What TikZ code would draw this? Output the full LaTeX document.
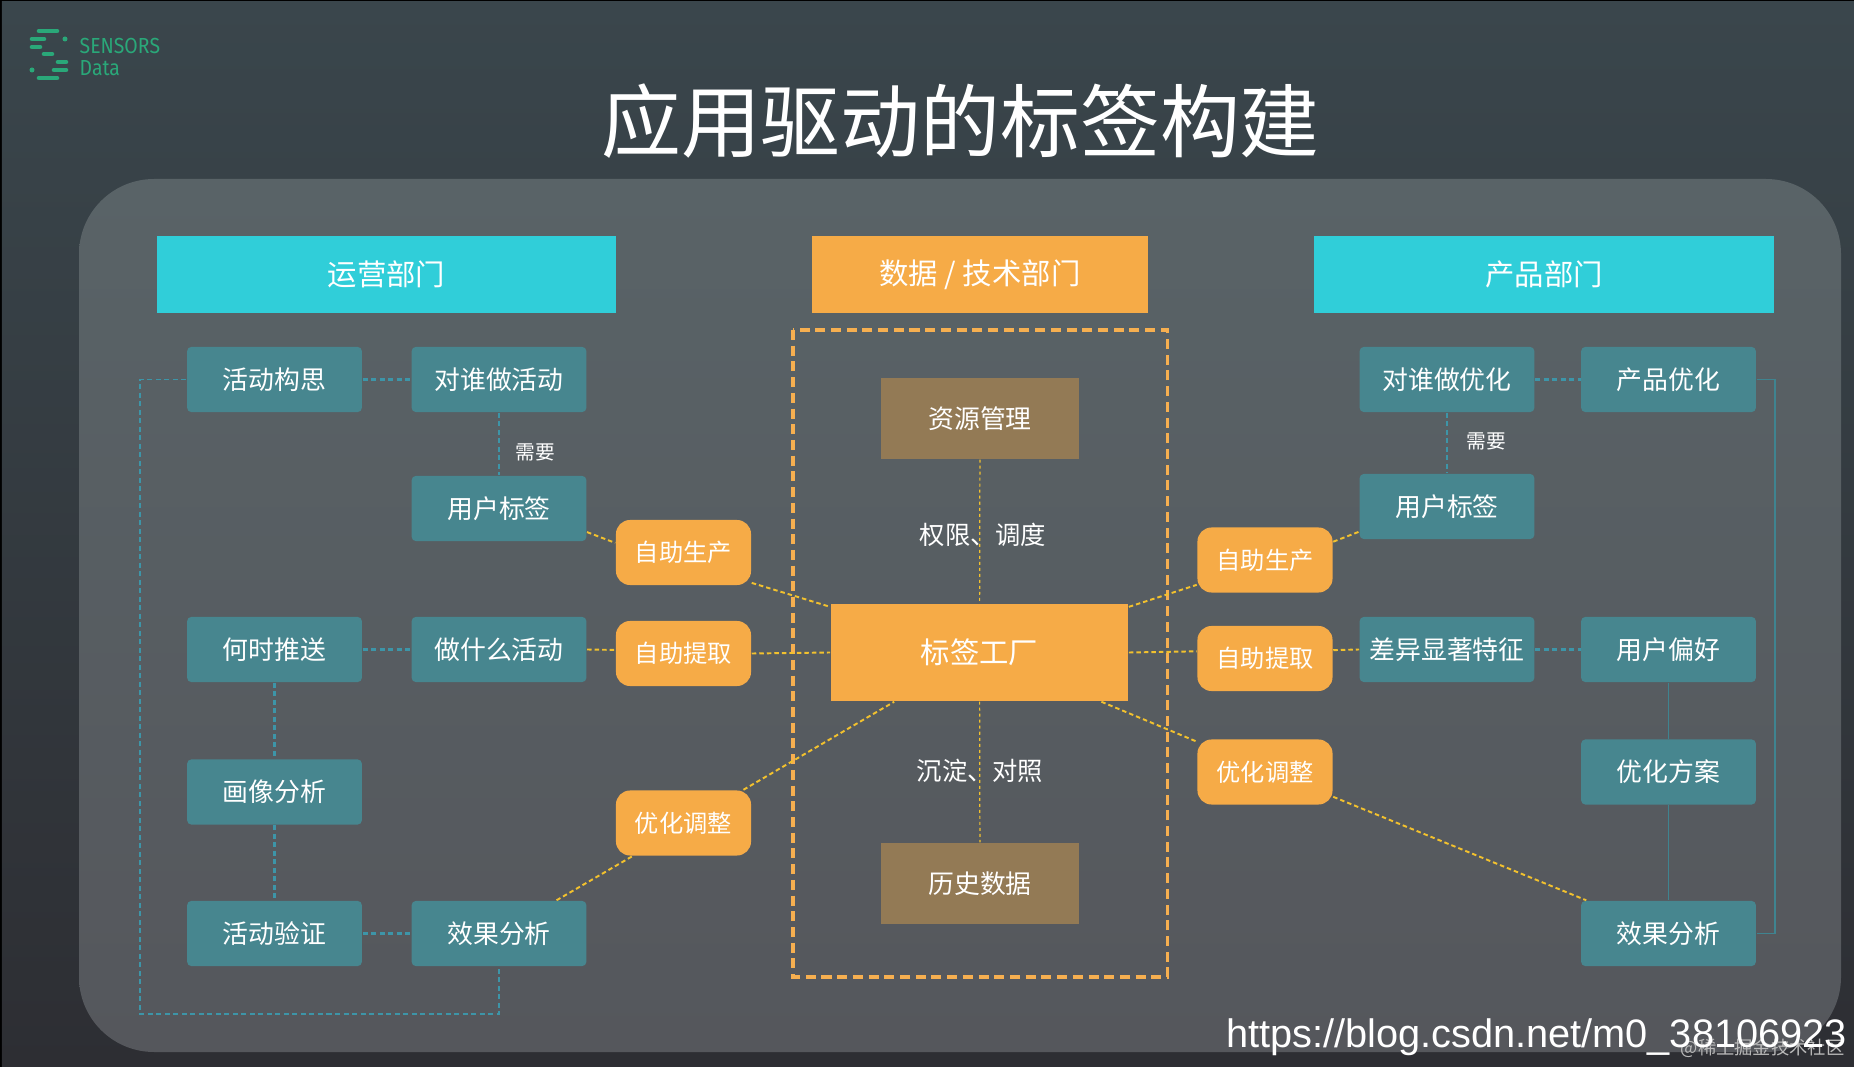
\documentclass[tikz,border=0pt]{standalone}
\usepackage{fontspec}
\setmainfont{Noto Sans CJK SC}
\newfontfamily\logofont[FakeStretch=.89]{Fira Sans}
\newfontfamily\urlfont{Liberation Sans}
\usetikzlibrary{arrows.meta,positioning}
\definecolor{tealbox}{HTML}{47868F}
\definecolor{orangebox}{HTML}{F6AB47}
\definecolor{cyanhead}{HTML}{30CED9}
\definecolor{brownbox}{HTML}{937A55}
\definecolor{yline}{HTML}{F2C12E}
\definecolor{tline}{HTML}{3D95A8}
\definecolor{thinline}{HTML}{3F8490}
\definecolor{logogreen}{HTML}{2AA879}
\newcommand{\fs}[1]{\fontsize{#1}{#1}\selectfont}
\begin{document}
\begin{tikzpicture}[x=0.01cm,y=-0.01cm,
  tb/.style={fill=tealbox,rounded corners=.04cm,minimum width=1.745cm,minimum height=.65cm,inner sep=0pt,text=white,font=\fs{7.35}},
  ob/.style={fill=orangebox,rounded corners=.14cm,minimum width=1.35cm,minimum height=.65cm,inner sep=0pt,text=white,font=\fs{6.9}},
  hd/.style={minimum height=.77cm,inner sep=0pt,text=white,font=\fs{8.35}},
  bb/.style={fill=brownbox,minimum width=1.98cm,minimum height=.81cm,inner sep=0pt,text=white,font=\fs{7.35}},
  lb/.style={inner sep=0pt,text=white,font=\fs{7.2}},
  yl/.style={yline,line width=.55pt,dash pattern=on .45mm off .3mm},
  yc/.style={yline,line width=.35pt,dash pattern=on .3mm off .3mm},
  tl/.style={tline,line width=.7pt,dash pattern=on .5mm off .35mm},
  ts/.style={thinline,line width=.3pt}]
 \useasboundingbox (0,0) rectangle (1854,1067);
 \fill[black] (0,0) rectangle (1854,1067);
 \shade[top color={rgb,255:red,58;green,70;blue,76},bottom color={rgb,255:red,45;green,46;blue,51}] (2,2) rectangle (1854,1067);
 \shade[rounded corners=.75cm,top color={rgb,255:red,89;green,99;blue,103},middle color={rgb,255:red,88;green,92;blue,99},bottom color={rgb,255:red,85;green,87;blue,92}] (79,179) rectangle (1841,1052);
 % logo
 \foreach \xa/\xb/\ya in {39/57/31,32/44/39,32/40/47,44/52/54,58/66/62,54/66/70,39/57/78}
   \draw[logogreen,line width=1.3pt,line cap=round] (\xa,\ya)--(\xb,\ya);
 \fill[logogreen] (65,39) circle (.025cm);
 \fill[logogreen] (32,70) circle (.025cm);
 \node[anchor=west,inner sep=0pt,text=logogreen,font=\logofont\fs{6.2}] (sn) at (79,46) {SENSORS};
 \node[anchor=west,inner sep=0pt,text=logogreen,font=\logofont\fs{6.2}] (dt) at (79,68) {Data};
 \node[inner sep=0pt,text=white,font=\fs{22.7}] (title) at (960.5,121.5) {应用驱动的标签构建};
 % headers
 \node[hd,fill=cyanhead,minimum width=4.59cm] (hL) at (386.5,274.5) {运营部门};
 \node[hd,fill=orangebox,minimum width=3.36cm] (hC) at (980,274.5) {数据~/~技术部门};
 \node[hd,fill=cyanhead,minimum width=4.6cm] (hR) at (1544,274.5) {产品部门};
 \draw[orangebox!95!white,line width=1pt,dash pattern=on 1mm off .57mm] (793,330) rectangle (1167.5,977);
 % left
 \node[tb] (gou) at (274.5,379.5) {活动构思};
 \node[tb] (shui) at (499,379.5) {对谁做活动};
 \node[tb] (tagL) at (499,508.5) {用户标签};
 \node[tb] (when) at (274.5,649.5) {何时推送};
 \node[tb] (what) at (499,649.5) {做什么活动};
 \node[tb] (hua) at (274.5,792) {画像分析};
 \node[tb] (yan) at (274.5,933.5) {活动验证};
 \node[tb] (xiaoL) at (499,933.5) {效果分析};
 \node[ob] (scL) at (683.5,552.5) {自助生产};
 \node[ob] (tqL) at (683.5,653.5) {自助提取};
 \node[ob] (tzL) at (683.5,823) {优化调整};
 \node[inner sep=0pt,text=white,font=\fs{5.6}] (xuL) at (535,452) {需要};
 % centre
 \node[bb] (zy) at (980,418.5) {资源管理};
 \node[fill=orangebox,minimum width=2.97cm,minimum height=.97cm,inner sep=0pt,text=white,font=\fs{8.35}] (gc) at (979.5,652.5) {标签工厂};
 \node[bb] (ls) at (980,883.5) {历史数据};
 \node[lb] (qx) at (983,535) {权限、调度};
 \node[lb] (cd) at (980,771) {沉淀、对照};
 % right
 \node[tb] (shuiR) at (1447,379.5) {对谁做优化};
 \node[tb] (cp) at (1668.5,379.5) {产品优化};
 \node[tb] (tagR) at (1447,506.5) {用户标签};
 \node[tb] (cy) at (1447,649.5) {差异显著特征};
 \node[tb] (ph) at (1668.5,649.5) {用户偏好};
 \node[tb] (fa) at (1668.5,772) {优化方案};
 \node[tb] (xiaoR) at (1668.5,933.5) {效果分析};
 \node[ob] (scR) at (1265,560) {自助生产};
 \node[ob] (tqR) at (1265,658.5) {自助提取};
 \node[ob] (tzR) at (1265,772) {优化调整};
 \node[inner sep=0pt,text=white,font=\fs{5.6}] (xuR) at (1486,441) {需要};
 % connectors
 \foreach \a/\b in {gou/shui,shui/tagL,when/what,when/hua,hua/yan,yan/xiaoL,shuiR/cp,shuiR/tagR,cy/ph}
   \draw[tl] (\a)--(\b);
 \foreach \a/\b in {tagL.-15/scL.172,scL.-24/gc.163,what.east/tqL.177,tqL.east/gc.west,xiaoL.30/tzL.213,tzL.29/gc.210,gc.17/scR.200,scR.15/tagR.196,gc.east/tqR.174.5,tqR.7/cy.west,gc.-22/tzR.156,tzR.-20/xiaoR.158.5}
   \draw[yl] (\a)--(\b);
 \foreach \a/\b in {zy/gc,gc/ls} \draw[yc] (\a)--(\b);
 \foreach \a/\b in {ph/fa,fa/xiaoR} \draw[ts] (\a)--(\b);
 \coordinate (la) at (140,379.5);
 \coordinate (lb) at (140,1014);
 \coordinate (lc) at (499,1014);
 \draw[tl,line width=.5pt] (gou)--(la)--(lb)--(lc)--(xiaoL);
 \coordinate (ra) at (1775,379.5);
 \coordinate (rb) at (1775,933.5);
 \draw[ts] (cp)--(ra)--(rb)--(xiaoR);
 % marks
 \node[anchor=east,inner sep=0pt,text=white!45!gray,font=\fs{5.2}] (jj) at (1845,1048) {@稀土掘金技术社区};
 \node[anchor=east,inner sep=0pt,text=white,font=\urlfont\fs{11.3}] (url) at (1847.5,1037.5) {https://blog.csdn.net/m0\_38106923};
\end{tikzpicture}
\end{document}
